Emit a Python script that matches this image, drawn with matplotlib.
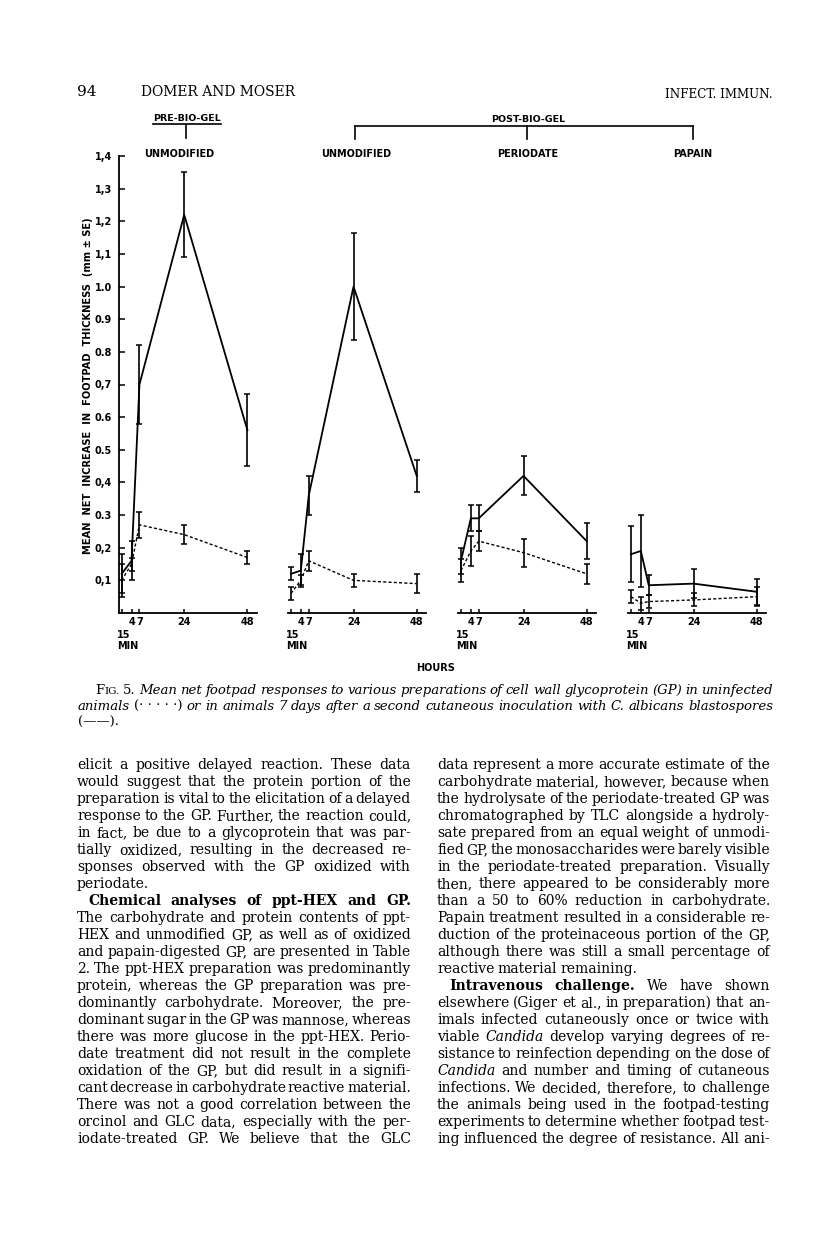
import matplotlib
matplotlib.use("Agg")
import matplotlib.pyplot as plt

W, H = 816, 1237

# hours after challenge (first point is 15 min)
hours = [0.25, 4, 7, 24, 48]

panel_names = ["UNMODIFIED", "UNMODIFIED", "PERIODATE", "PAPAIN"]

# infected animals (solid line), mean and SE
infected_mean = [
    [0.12, 0.16, 0.70, 1.22, 0.56],
    [0.12, 0.13, 0.36, 1.00, 0.42],
    [0.16, 0.29, 0.29, 0.42, 0.22],
    [0.18, 0.19, 0.085, 0.09, 0.065],
]
infected_se = [
    [0.06, 0.06, 0.12, 0.13, 0.11],
    [0.02, 0.05, 0.06, 0.165, 0.05],
    [0.04, 0.04, 0.04, 0.06, 0.055],
    [0.085, 0.11, 0.03, 0.045, 0.04],
]

# uninfected animals (dotted line)
control_mean = [
    [0.10, 0.15, 0.27, 0.24, 0.17],
    [0.06, 0.10, 0.16, 0.10, 0.09],
    [0.13, 0.19, 0.22, 0.185, 0.12],
    [0.05, 0.03, 0.035, 0.04, 0.05],
]
control_se = [
    [0.05, 0.02, 0.04, 0.03, 0.02],
    [0.02, 0.015, 0.03, 0.02, 0.03],
    [0.035, 0.045, 0.03, 0.043, 0.03],
    [0.02, 0.02, 0.02, 0.02, 0.03],
]

ytick_vals = [0.1, 0.2, 0.3, 0.4, 0.5, 0.6, 0.7, 0.8, 0.9, 1.0, 1.1, 1.2, 1.3, 1.4]
ytick_text = ["0,1", "0,2", "0.3", "0,4", "0.5", "0.6", "0,7", "0.8", "0.9",
              "1.0", "1,1", "1,2", "1,3", "1,4"]
xtick_text = ["", "4", "7", "24", "48"]

caption = [
    "%FIG. =5. Mean net footpad responses to various preparations of cell wall glycoprotein (GP) in uninfected",
    "animals =(\u00b7\u00a0\u00b7\u00a0\u00b7\u00a0\u00b7\u00a0\u00b7) or in animals 7 days after a second cutaneous inoculation with C. albicans blastospores",
    "=(\u2014\u2014).",
]

left_col = [
    "elicit a positive delayed reaction. These data",
    "would suggest that the protein portion of the",
    "preparation is vital to the elicitation of a delayed",
    "response to the GP. Further, the reaction could,",
    "in fact, be due to a glycoprotein that was par-",
    "tially oxidized, resulting in the decreased re-",
    "sponses observed with the GP oxidized with",
    "periodate.",
    "^Chemical ^analyses ^of ^ppt-HEX ^and ^GP.",
    "The carbohydrate and protein contents of ppt-",
    "HEX and unmodified GP, as well as of oxidized",
    "and papain-digested GP, are presented in Table",
    "2. The ppt-HEX preparation was predominantly",
    "protein, whereas the GP preparation was pre-",
    "dominantly carbohydrate. Moreover, the pre-",
    "dominant sugar in the GP was mannose, whereas",
    "there was more glucose in the ppt-HEX. Perio-",
    "date treatment did not result in the complete",
    "oxidation of the GP, but did result in a signifi-",
    "cant decrease in carbohydrate reactive material.",
    "There was not a good correlation between the",
    "orcinol and GLC data, especially with the per-",
    "iodate-treated GP. We believe that the GLC",
]
right_col = [
    "data represent a more accurate estimate of the",
    "carbohydrate material, however, because when",
    "the hydrolysate of the periodate-treated GP was",
    "chromatographed by TLC alongside a hydroly-",
    "sate prepared from an equal weight of unmodi-",
    "fied GP, the monosaccharides were barely visible",
    "in the periodate-treated preparation. Visually",
    "then, there appeared to be considerably more",
    "than a 50 to 60% reduction in carbohydrate.",
    "Papain treatment resulted in a considerable re-",
    "duction of the proteinaceous portion of the GP,",
    "although there was still a small percentage of",
    "reactive material remaining.",
    "^Intravenous ^challenge. We have shown",
    "elsewhere (Giger et al., in preparation) that an-",
    "imals infected cutaneously once or twice with",
    "viable ~Candida develop varying degrees of re-",
    "sistance to reinfection depending on the dose of",
    "~Candida and number and timing of cutaneous",
    "infections. We decided, therefore, to challenge",
    "the animals being used in the footpad-testing",
    "experiments to determine whether footpad test-",
    "ing influenced the degree of resistance. All ani-",
]
left_ragged = {7}
left_indent = {8}
right_ragged = {12}
right_indent = {13}


def fx(x):
    return x / W


def fy(y):
    return 1 - y / H


fig = plt.figure(figsize=(W / 100, H / 100), dpi=100)
fig.patch.set_facecolor("white")
renderer = fig.canvas.get_renderer()

sans = dict(family="DejaVu Sans", fontweight="bold", color="black")

# ---- panels ----
lefts = [118.9, 288.2, 458.2, 628.2]
pw = 138
y_top, y_bot = 156, 613
axes = []
for i in range(4):
    ax = fig.add_axes([fx(lefts[i]), fy(y_bot), pw / W, (y_bot - y_top) / H])
    ax.set_xlim(-0.8, 51.6)
    ax.set_ylim(0, 1.4)
    ax.spines["top"].set_visible(False)
    ax.spines["right"].set_visible(False)
    ax.spines["bottom"].set_linewidth(1.3)
    ax.patch.set_alpha(0)
    ax.errorbar(hours, infected_mean[i], yerr=infected_se[i], color="black",
                lw=1.3, elinewidth=1.2, capsize=2.2, capthick=1.1, clip_on=False)
    ax.errorbar(hours, control_mean[i], yerr=control_se[i], color="black",
                lw=1.0, ls=(0, (2.2, 1.6)), elinewidth=1.2, capsize=2.2,
                capthick=1.1, clip_on=False)
    ax.set_xticks(hours)
    ax.set_xticklabels(xtick_text, fontsize=7, **sans)
    ax.tick_params(axis="x", direction="in", length=3, width=1.1, pad=3)
    if i == 0:
        ax.spines["left"].set_linewidth(1.3)
        ax.set_yticks(ytick_vals)
        ax.set_yticklabels(ytick_text, fontsize=7, **sans)
        ax.tick_params(axis="y", direction="in", length=4, width=1.1, pad=5)
    else:
        ax.spines["left"].set_visible(False)
        ax.set_yticks([])
    fig.text(fx(lefts[i] - 2), fy(638), "15", fontsize=7, ha="left", va="baseline", **sans)
    fig.text(fx(lefts[i] - 2), fy(649), "MIN", fontsize=7, ha="left", va="baseline", **sans)
    axes.append(ax)

name_x = [179, 356, 528, 693]
for name, x in zip(panel_names, name_x):
    fig.text(fx(x), fy(157), name, fontsize=7, ha="center", va="baseline", **sans)

fig.text(fx(436), fy(671), "HOURS", fontsize=7, ha="center", va="baseline", **sans)
fig.text(fx(88), fy(386), "MEAN  NET  INCREASE  IN  FOOTPAD  THICKNESS  (mm \u00b1 SE)",
         fontsize=7.1, rotation=90, ha="center", va="center", **sans)

# brackets above the panels
fig.text(fx(187), fy(121), "PRE-BIO-GEL", fontsize=6.8, ha="center", va="baseline", **sans)
fig.add_artist(plt.Line2D([fx(153), fx(221)], [fy(124), fy(124)], color="black", lw=1.2))
fig.add_artist(plt.Line2D([fx(186), fx(186)], [fy(125), fy(138)], color="black", lw=1.2))
fig.text(fx(528), fy(122), "POST-BIO-GEL", fontsize=6.8, ha="center", va="baseline", **sans)
fig.add_artist(plt.Line2D([fx(355), fx(693)], [fy(126), fy(126)], color="black", lw=1.2))
for bx in [355, 527, 693]:
    fig.add_artist(plt.Line2D([fx(bx), fx(bx)], [fy(126), fy(139)], color="black", lw=1.2))

# ---- page text ----
serif = "DejaVu Serif"


def pieces(tok, base):
    st = dict(base)
    if tok.startswith("^"):
        tok = tok[1:]
        st["fontweight"] = "bold"
    elif tok.startswith("~"):
        tok = tok[1:]
        st["fontstyle"] = "italic"
    elif tok.startswith("="):
        tok = tok[1:]
        st["fontstyle"] = "normal"
    if tok.startswith("%"):
        tok = tok[1:]
        st = dict(st, fontstyle="normal")
        return [(tok[0], st, 1.0), (tok[1:], st, 0.78)]
    return [(tok, st, 1.0)]


def make_word(tok, size, base):
    objs, w = [], 0.0
    for text, st, scale in pieces(tok, base):
        t = fig.text(0, 0, text, fontsize=size * scale, family=serif,
                     va="baseline", ha="left", **st)
        objs.append((t, w))
        w += t.get_window_extent(renderer=renderer).width
    return objs, w


def natural_width(line, size, base, min_space):
    toks = line.split(" ")
    total = 0.0
    for tok in toks:
        objs, w = make_word(tok, size, base)
        for t, _ in objs:
            t.remove()
        total += w
    return total + (len(toks) - 1) * size * min_space * 100 / 72


def draw_line(line, x0, x1, y, size, base, justify):
    toks = line.split(" ")
    words = [make_word(tok, size, base) for tok in toks]
    total = sum(w for _, w in words)
    space = size * 0.25 * 100 / 72
    if justify and len(toks) > 1:
        space = (x1 - x0 - total) / (len(toks) - 1)
    x = x0
    for objs, w in words:
        for t, off in objs:
            t.set_position((fx(x + off), fy(y)))
        x += w + space


def fit_size(lines, widths, base, start, min_space):
    worst = max(natural_width(l, start, base, min_space) / w for l, w in zip(lines, widths))
    return start / worst


# running head
fig.text(fx(77), fy(96), "94", fontsize=11, family=serif, va="baseline")
fig.text(fx(141), fy(96), "DOMER AND MOSER", fontsize=10, family=serif, va="baseline")
fig.text(fx(773), fy(98), "INFECT. IMMUN.", fontsize=8.6, family=serif, va="baseline", ha="right")

# caption
cap_base = dict(fontstyle="italic", color="black")
cap_size = fit_size(caption[:2], [678, 695], cap_base, 10.0, 0.26)
draw_line(caption[0], 95, 773, 694, cap_size, cap_base, True)
draw_line(caption[1], 78, 773, 710, cap_size, cap_base, True)
draw_line(caption[2], 78, 773, 726, cap_size, cap_base, False)

# body columns
body_base = dict(color="black")
body_lines = [l for i, l in enumerate(left_col) if i not in left_ragged]
body_size = fit_size(body_lines, [334] * len(body_lines), body_base, 10.0, 0.14)
for i, line in enumerate(left_col):
    x0 = 77 + (11 if i in left_indent else 0)
    draw_line(line, x0, 411, 769 + 17 * i, body_size, body_base, i not in left_ragged)
for i, line in enumerate(right_col):
    x0 = 437 + (12 if i in right_indent else 0)
    draw_line(line, x0, 770, 769 + 17 * i, body_size, body_base, i not in right_ragged)

fig.savefig("out.png", dpi=100, facecolor="white")
